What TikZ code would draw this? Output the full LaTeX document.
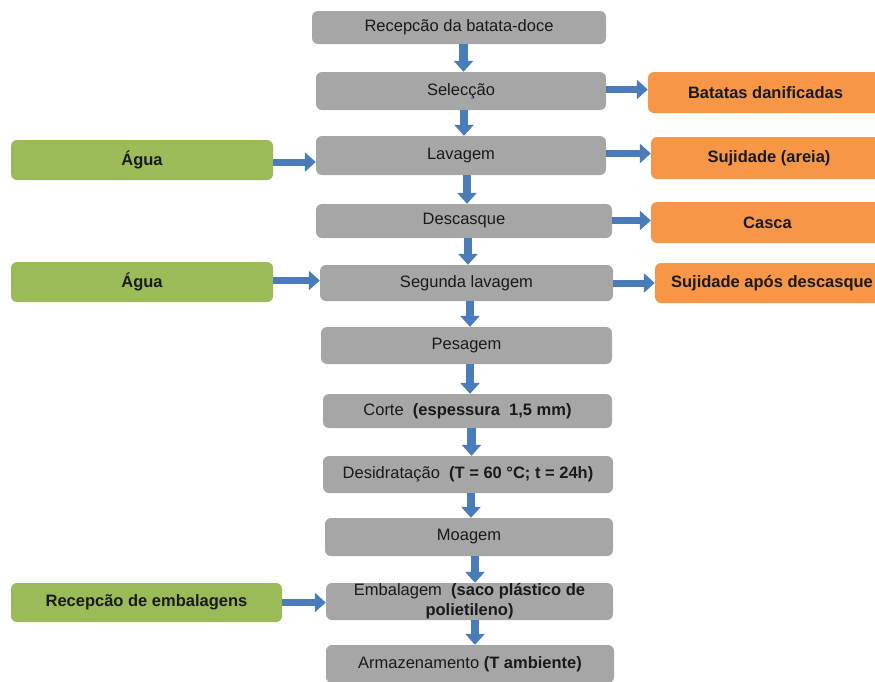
\documentclass[tikz,border=0pt]{standalone}
\usepackage{fontspec}
\setmainfont{Liberation Sans}
\usetikzlibrary{arrows.meta}
\definecolor{boxgray}{HTML}{A6A6A6}
\definecolor{boxgreen}{HTML}{9BBB59}
\definecolor{boxorange}{HTML}{F79646}
\definecolor{arrowblue}{HTML}{4A7CB9}
\definecolor{txt}{HTML}{1A1A1A}
\tikzset{
  basebox/.style={rounded corners=6pt, inner sep=0pt, align=center, text=txt,
    font=\fontsize{16.5}{20}\selectfont},
  graybox/.style={basebox, fill=boxgray},
  greenbox/.style={basebox, fill=boxgreen, font=\fontsize{16.5}{20}\selectfont\bfseries},
  orangebox/.style={basebox, fill=boxorange, font=\fontsize{16.5}{20}\selectfont\bfseries},
  varrow/.style={draw=arrowblue, line width=8.5pt, -{Triangle[length=11pt,width=19pt]}},
  harrow/.style={draw=arrowblue, line width=7pt, -{Triangle[length=11pt,width=19pt]}}
}
\begin{document}
\begin{tikzpicture}[x=1pt,y=-1pt]
\useasboundingbox (0,0) rectangle (875,681);
\clip (0,0) rectangle (875,681);
% main column
\node[graybox, minimum width=294pt, minimum height=33pt] (b1) at (459,27.5) {Recepcão da batata-doce};
\node[graybox, minimum width=290pt, minimum height=38pt] (b2) at (461,91) {Selecção};
\node[graybox, minimum width=290pt, minimum height=39pt] (b3) at (461,155.5) {Lavagem};
\node[graybox, minimum width=296pt, minimum height=34pt] (b4) at (464,221) {Descasque};
\node[graybox, minimum width=293pt, minimum height=36pt] (b5) at (466.5,283) {Segunda lavagem};
\node[graybox, minimum width=291pt, minimum height=37pt] (b6) at (466.5,345.5) {Pesagem};
\node[graybox, minimum width=289pt, minimum height=34pt] (b7) at (467.5,411) {Corte\ \ {\bfseries (espessura\ \ 1,5 mm)}};
\node[graybox, minimum width=290pt, minimum height=37pt] (b8) at (468,474.5) {Desidratação\ \ {\bfseries (T = 60 °C; t = 24h)}};
\node[graybox, minimum width=288pt, minimum height=38pt] (b9) at (469,537) {Moagem};
\node[graybox, minimum width=287pt, minimum height=37pt] (b10) at (469.5,601.5) {Embalagem\ \ {\bfseries (saco plástico de}\\{\bfseries polietileno)}};
\node[graybox, minimum width=288pt, minimum height=38pt] (b11) at (470,664) {Armazenamento {\bfseries (T ambiente)}};
% inputs
\node[greenbox, minimum width=262pt, minimum height=40pt] (g1) at (142,160) {Água};
\node[greenbox, minimum width=262pt, minimum height=40pt] (g2) at (142,282) {Água};
\node[greenbox, minimum width=271pt, minimum height=39pt] (g3) at (146.5,602.5) {Recepcão de embalagens};
% outputs
\node[orangebox, minimum width=235pt, minimum height=41pt] (o1) at (765.5,92.5) {Batatas danificadas};
\node[orangebox, minimum width=236pt, minimum height=42pt] (o2) at (769,158) {Sujidade (areia)};
\node[orangebox, minimum width=233pt, minimum height=41pt] (o3) at (767.5,222.5) {Casca};
\node[orangebox, minimum width=234pt, minimum height=40pt] (o4) at (772,283) {Sujidade após descasque};
% vertical arrows
\draw[varrow] ([xshift=4.5pt]b1.south) -- ([xshift=4.5pt]b1.south |- b2.north);
\draw[varrow] ([xshift=3pt]b2.south) -- ([xshift=3pt]b2.south |- b3.north);
\draw[varrow] ([xshift=6pt]b3.south) -- ([xshift=6pt]b3.south |- b4.north);
\draw[varrow] ([xshift=4pt]b4.south) -- ([xshift=4pt]b4.south |- b5.north);
\draw[varrow] ([xshift=3.5pt]b5.south) -- ([xshift=3.5pt]b5.south |- b6.north);
\draw[varrow] ([xshift=3.5pt]b6.south) -- ([xshift=3.5pt]b6.south |- b7.north);
\draw[varrow] ([xshift=4pt]b7.south) -- ([xshift=4pt]b7.south |- b8.north);
\draw[varrow] ([xshift=3pt]b8.south) -- ([xshift=3pt]b8.south |- b9.north);
\draw[varrow] ([xshift=6pt]b9.south) -- ([xshift=6pt]b9.south |- b10.north);
\draw[varrow] ([xshift=5.5pt]b10.south) -- ([xshift=5.5pt]b10.south |- b11.north);
% input arrows
\draw[harrow] ([yshift=-2pt]g1.east) -- ([yshift=-2pt]g1.east -| b3.west);
\draw[harrow] ([yshift=1.5pt]g2.east) -- ([yshift=1.5pt]g2.east -| b5.west);
\draw[harrow] (g3.east) -- (g3.east -| b10.west);
% output arrows
\draw[harrow] ([yshift=1.5pt]b2.east) -- ([yshift=1.5pt]b2.east -| o1.west);
\draw[harrow] ([yshift=2pt]b3.east) -- ([yshift=2pt]b3.east -| o2.west);
\draw[harrow] ([yshift=0.5pt]b4.east) -- ([yshift=0.5pt]b4.east -| o3.west);
\draw[harrow] (b5.east) -- (b5.east -| o4.west);
\end{tikzpicture}
\end{document}
